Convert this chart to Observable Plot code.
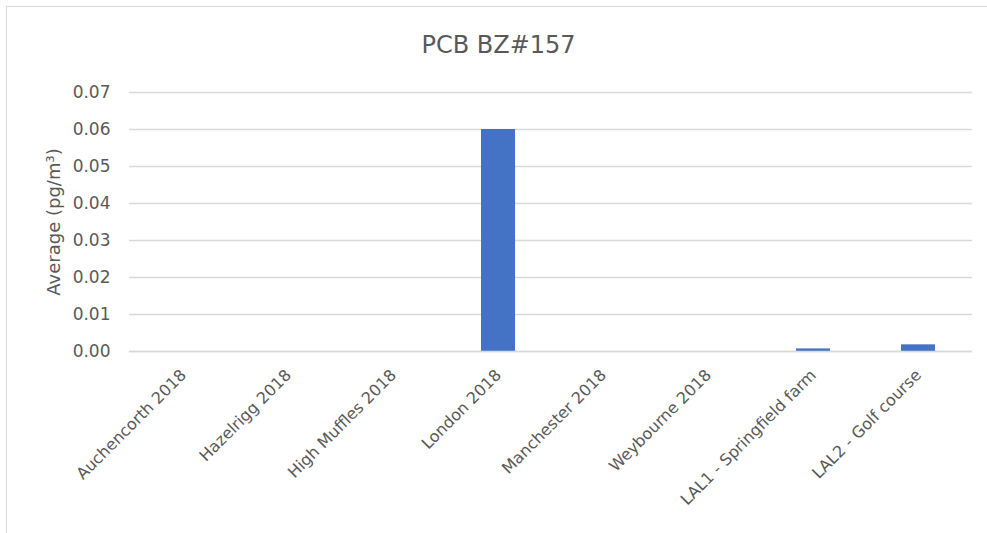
<!DOCTYPE html>
<html>
<head>
<meta charset="utf-8">
<script src="https://cdn.jsdelivr.net/npm/d3@7"></script>
<script src="https://cdn.jsdelivr.net/npm/@observablehq/plot@0.6"></script>
<style>
  html, body { margin: 0; padding: 0; background: #fff; }
  #wrap { position: relative; width: 987px; height: 533px; overflow: hidden; font-family: "DejaVu Sans", sans-serif; }
  #frame { position: absolute; left: 6px; top: 6px; width: 990px; height: 540px; border: 1.5px solid #d9d9d9; box-sizing: border-box; }
  #title { position: absolute; left: 0; width: 997px; top: 31px; text-align: center; font-size: 24px; color: #595959; }
  #chart { position: absolute; left: 0; top: 0; }
</style>
</head>
<body>
<div id="wrap">
  <div id="frame"></div>
  <div id="title">PCB BZ#157</div>
  <div id="chart"></div>
</div>
<script>
const categories = ["Auchencorth 2018", "Hazelrigg 2018", "High Muffles 2018", "London 2018", "Manchester 2018", "Weybourne 2018", "LAL1 - Springfield farm", "LAL2 - Golf course"];
const values = [0, 0, 0, 0.06, 0, 0, 0.0007, 0.0018];
const yTicks = [0, 0.01, 0.02, 0.03, 0.04, 0.05, 0.06, 0.07];
const yLabel = "Average (pg/m³)";

const data = categories.map((c, i) => ({category: c, value: values[i]}));

const chart = Plot.plot({
  width: 987,
  height: 533,
  marginLeft: 129,
  marginRight: 15,
  marginTop: 92,
  marginBottom: 182,
  style: {background: "transparent", fontFamily: "DejaVu Sans, sans-serif", color: "#595959"},
  x: {domain: categories, paddingInner: 0.68, paddingOuter: 0.34, label: null},
  y: {domain: [0, 0.07], label: null},
  marks: [
    Plot.gridY(yTicks, {stroke: "#d9d9d9", strokeOpacity: 1, strokeWidth: 1.3}),
    Plot.axisY(yTicks, {tickSize: 0, tickPadding: 19, tickFormat: d3.format(".2f"), fontSize: 17, fill: "#595959", label: null}),
    Plot.axisX({tickSize: 0, tickRotate: -45, tickPadding: 21, fontSize: 16, fill: "#595959", label: null}),
    Plot.barY(data, {x: "category", y: "value", fill: "#4472C4"}),
    Plot.ruleY([0], {stroke: "#d9d9d9", strokeWidth: 1.5}),
    Plot.text([yLabel], {frameAnchor: "left", textAnchor: "middle", dx: -75, rotate: -90, fontSize: 18, fill: "#595959", text: d => d})
  ]
});
document.getElementById("chart").appendChild(chart);
</script>
</body>
</html>
